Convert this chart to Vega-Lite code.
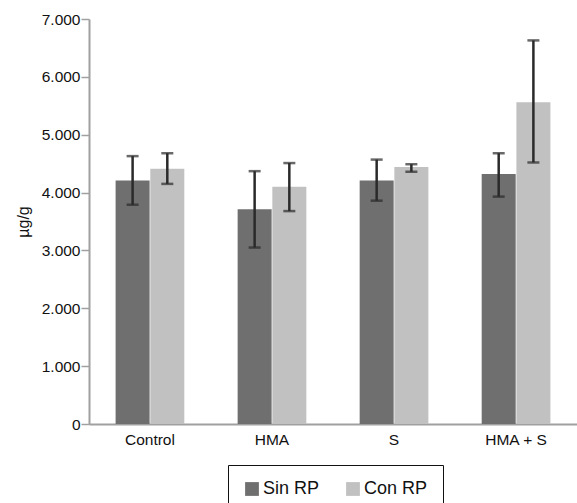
{
  "$schema": "https://vega.github.io/schema/vega-lite/v6.json",
  "width": 488,
  "height": 405,
  "autosize": "none",
  "padding": {"left": 89, "top": 19, "right": 0, "bottom": 79},
  "background": "white",
  "config": {
    "font": "Liberation Sans",
    "view": {"stroke": null},
    "axis": {"grid": false, "labelFont": "Liberation Sans", "titleFont": "Liberation Sans", "labelColor": "#111", "titleColor": "#111", "domainColor": "#a0a0a0", "tickColor": "#a0a0a0", "domainWidth": 2, "tickWidth": 1.5}
  },
  "data": {
    "values": [
      {"grupo": "Control", "serie": "Sin RP", "media": 4210, "lo": 3790, "hi": 4630},
      {"grupo": "Control", "serie": "Con RP", "media": 4410, "lo": 4150, "hi": 4680},
      {"grupo": "HMA", "serie": "Sin RP", "media": 3710, "lo": 3050, "hi": 4370},
      {"grupo": "HMA", "serie": "Con RP", "media": 4100, "lo": 3680, "hi": 4510},
      {"grupo": "S", "serie": "Sin RP", "media": 4210, "lo": 3860, "hi": 4570},
      {"grupo": "S", "serie": "Con RP", "media": 4440, "lo": 4360, "hi": 4490},
      {"grupo": "HMA + S", "serie": "Sin RP", "media": 4320, "lo": 3930, "hi": 4680},
      {"grupo": "HMA + S", "serie": "Con RP", "media": 5560, "lo": 4520, "hi": 6630}
    ]
  },
  "encoding": {
    "x": {
      "field": "grupo", "type": "nominal", "sort": ["Control", "HMA", "S", "HMA + S"],
      "scale": {"paddingInner": 0.437, "paddingOuter": 0.218},
      "axis": {"title": null, "labelAngle": 0, "ticks": false, "labelFontSize": 15.5, "labelPadding": 8}
    },
    "xOffset": {"field": "serie", "type": "nominal", "sort": ["Sin RP", "Con RP"], "scale": {"paddingInner": 0.02}}
  },
  "layer": [
    {
      "mark": {"type": "bar"},
      "encoding": {
        "y": {
          "field": "media", "type": "quantitative",
          "scale": {"domain": [0, 7000], "nice": false},
          "axis": {"title": "µg/g", "values": [0, 1000, 2000, 3000, 4000, 5000, 6000, 7000], "labelExpr": "replace(format(datum.value, ','), ',', '.')", "labelFontSize": 15.5, "tickSize": 8, "labelPadding": 1, "titleFontSize": 16, "titleFontWeight": "normal", "titlePadding": 10}
        },
        "color": {
          "field": "serie", "type": "nominal", "sort": ["Sin RP", "Con RP"],
          "scale": {"domain": ["Sin RP", "Con RP"], "range": ["#6f6f6f", "#c1c1c1"]},
          "legend": {"title": null, "orient": "none", "legendX": 139, "legendY": 446, "direction": "horizontal", "columns": 2, "strokeColor": "#111", "padding": 15, "symbolType": "square", "symbolSize": 190, "symbolStrokeWidth": 0, "labelFontSize": 18, "labelColor": "#111", "labelOffset": 2, "columnPadding": 24, "labelFont": "Liberation Sans"}
        }
      }
    },
    {
      "mark": {"type": "rule", "color": "#2a2a2a", "strokeWidth": 2.5},
      "encoding": {
        "y": {"field": "lo", "type": "quantitative"},
        "y2": {"field": "hi"}
      }
    },
    {
      "mark": {"type": "tick", "color": "#2a2a2a", "thickness": 2.5, "size": 12},
      "encoding": {
        "y": {"field": "lo", "type": "quantitative"}
      }
    },
    {
      "mark": {"type": "tick", "color": "#2a2a2a", "thickness": 2.5, "size": 12},
      "encoding": {
        "y": {"field": "hi", "type": "quantitative"}
      }
    }
  ]
}
